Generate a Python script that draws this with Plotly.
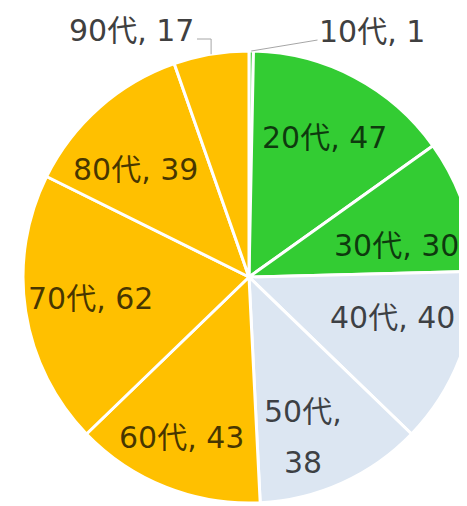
import math
import plotly.graph_objects as go

labels = ["10代", "20代", "30代", "40代", "50代", "60代", "70代", "80代", "90代"]
values = [1, 47, 30, 40, 38, 43, 62, 39, 17]
colors = ["#33cc33", "#33cc33", "#33cc33", "#dce6f2", "#dce6f2",
          "#ffc000", "#ffc000", "#ffc000", "#ffc000"]

# label placement style (radius fraction and angular nudge from slice middle)
label_rfrac = [None, 0.70, 0.665, 0.662, 0.749, 0.769, 0.706, 0.692, None]
label_nudge = [0, 0.5, 6.5, -5.4, 5.8, 1.4, 0.9, -4.9, 0]
wrap = {"50代"}
WRAP_GAP = 51   # px between wrapped lines

W, H = 467, 506
OFF = 8                         # page body margin
CX, CY = 249 - OFF, 277 - OFF   # pie centre in figure px
R = 226

dx0 = (CX - R) / W
dx1 = (CX + R) / W
yc = 1 - CY / H
dy0 = yc - R / H
dy1 = yc + R / H

font_family = "DejaVu Sans, Noto Sans CJK JP"
txt_color = "rgba(0,0,0,0.72)"
FS = 30

fig = go.Figure(go.Pie(
    labels=labels, values=values, textinfo="none",
    sort=False, direction="clockwise", rotation=0,
    marker=dict(colors=colors, line=dict(color="white", width=3)),
    domain=dict(x=[max(0, dx0), min(1, dx1)], y=[max(0, dy0), min(1, dy1)]),
    hoverinfo="skip", showlegend=False,
))


def to_paper(px, py):
    return px / W, 1 - py / H


def add_text(px, py, t, color):
    x, y = to_paper(px, py)
    fig.add_annotation(
        x=x, y=y, xref="paper", yref="paper", text=t, showarrow=False,
        xanchor="center", yanchor="middle",
        font=dict(family=font_family, size=FS, color=color),
    )


total = sum(values)
cum = 0
for i, (l, v) in enumerate(zip(labels, values)):
    mid = (cum + v / 2) / total * 360.0
    cum += v
    if label_rfrac[i] is not None:
        a = math.radians(mid + label_nudge[i])
        r = R * label_rfrac[i]
        px = CX + r * math.sin(a)
        py = CY - r * math.cos(a)
        if l in wrap:
            add_text(px, py - WRAP_GAP / 2, f"{l},", txt_color)
            add_text(px, py + WRAP_GAP / 2, f"{v}", txt_color)
        else:
            add_text(px, py, f"{l}, {v}", txt_color)
        continue
    # outside labels with leader lines
    a = math.radians(mid)
    px = CX + R * math.sin(a)
    py = CY - R * math.cos(a)
    if l == "10代":
        tx, ty = 372 - OFF, 31 - OFF
        x, y = to_paper(px, py)
        fig.add_annotation(
            x=x, y=y, xref="paper", yref="paper", text=f"{l}, {v}",
            showarrow=True, arrowhead=0, arrowwidth=1, arrowcolor="#a6a6a6",
            ax=tx - px, ay=ty - py, standoff=0,
            font=dict(family=font_family, size=FS, color="#404040"),
        )
    else:
        add_text(131 - OFF, 31 - OFF, f"{l}, {v}", "#404040")
        # bracket-style leader: from slice edge up, then left to the text
        ex, ey = 197 - OFF, 39 - OFF
        p0 = to_paper(px, py)
        p1 = to_paper(px, ey)
        p2 = to_paper(ex, ey)
        fig.add_shape(
            type="path", xref="paper", yref="paper",
            path=f"M {p0[0]} {p0[1]} L {p1[0]} {p1[1]} L {p2[0]} {p2[1]}",
            line=dict(color="#a6a6a6", width=1),
        )

fig.update_layout(
    width=W, height=H, margin=dict(l=0, r=0, t=0, b=0),
    paper_bgcolor="white", plot_bgcolor="white",
)
fig.write_html("out.html")
